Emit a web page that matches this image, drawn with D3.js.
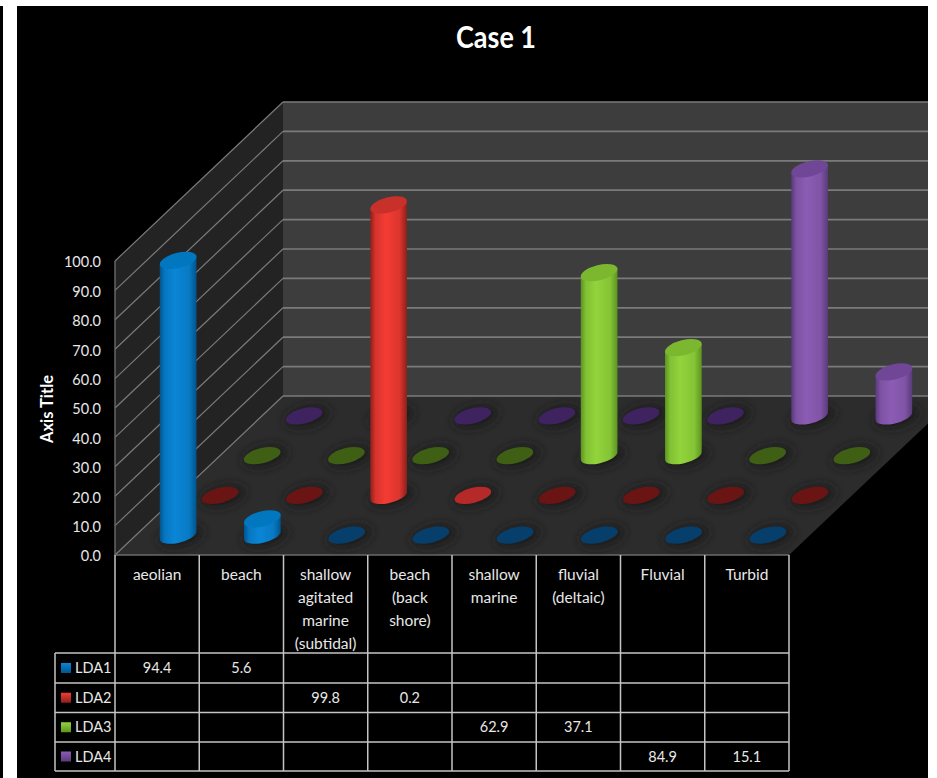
<!DOCTYPE html>
<html>
<head>
<meta charset="utf-8">
<script src="https://cdn.jsdelivr.net/npm/d3@7"></script>
<style>
  html, body { margin: 0; padding: 0; background: #fff; }
  svg { display: block; }
  text { font-family: Lato, "Open Sans", sans-serif; fill: #e8e8e8; }
</style>
</head>
<body>
<svg id="chart" width="937" height="778"></svg>
<script>
// Chart data
const categories = ["aeolian", "beach", "shallow agitated marine (subtidal)", "beach (back shore)",
                    "shallow marine", "fluvial (deltaic)", "Fluvial", "Turbid"];
const categoryLines = [["aeolian"], ["beach"], ["shallow", "agitated", "marine", "(subtidal)"],
                       ["beach", "(back", "shore)"], ["shallow", "marine"], ["fluvial", "(deltaic)"],
                       ["Fluvial"], ["Turbid"]];
const seriesNames = ["LDA1", "LDA2", "LDA3", "LDA4"];
const LDA1 = [94.4, 5.6, null, null, null, null, null, null];
const LDA2 = [null, null, 99.8, 0.2, null, null, null, null];
const LDA3 = [null, null, null, null, 62.9, 37.1, null, null];
const LDA4 = [null, null, null, null, null, null, 84.9, 15.1];
const seriesValues = [LDA1, LDA2, LDA3, LDA4];
const yTicks = [0, 10, 20, 30, 40, 50, 60, 70, 80, 90, 100];

// Per-series shading: cylinder edge, cylinder centre, cap, empty-disc tint
const edgeColors = ["#00558f", "#8e1f1b", "#5c9420", "#5a3a7c"];
const centerColors = ["#0a86d6", "#f43c34", "#92d43c", "#8c5cb4"];
const capColors = ["#0077bf", "#c8302a", "#7cb82f", "#6f4796"];
const discColors = ["#063f6c", "#6b1414", "#3f5f15", "#3e2360"];
const lowDiscColor = "#b52a28";

const svg = d3.select("#chart");
const defs = svg.append("defs");

// Frame and plot geometry
const plotLeft = 115, plotRight = 789, floorY = 555, topY = 261;
const depthDx = 168, depthDy = -159;
const rowBottoms = [653, 683, 712.5, 742, 771];
const legendLeft = 55, frameRight = 928;

const x = d3.scaleBand().domain(categories).range([plotLeft, plotRight]);
const y = d3.scaleLinear().domain([0, 100]).range([floorY, topY]);
const barHeight = d3.scaleLinear().domain([0, 100]).range([0, 291]);
const depth = d3.scaleBand().domain(seriesNames).range([0, 1]);

// Places a point on the floor and lifts it by a value along the vertical axis
function project(category, series, value) {
  const d = depth(series) + depth.bandwidth() / 2;
  return [x(category) + x.bandwidth() / 2 + depthDx * d,
          floorY - barHeight(value) + depthDy * d];
}

svg.append("rect").attr("width", 937).attr("height", 778).attr("fill", "#000");

// Back wall, side wall and floor
const corner = (px, py, d) => [px + depthDx * d, py + depthDy * d];
const line = d3.line();
svg.append("path").attr("fill", "#3d3d3d")
  .attr("d", line([corner(plotLeft, topY, 1), corner(plotRight, topY, 1),
                   corner(plotRight, floorY, 1), corner(plotLeft, floorY, 1)]) + "Z");
svg.append("path").attr("fill", "#232323")
  .attr("d", line([[plotLeft, topY], corner(plotLeft, topY, 1),
                   corner(plotLeft, floorY, 1), [plotLeft, floorY]]) + "Z");
svg.append("path").attr("fill", "#2c2c2c")
  .attr("d", line([[plotLeft, floorY], [plotRight, floorY],
                   corner(plotRight, floorY, 1), corner(plotLeft, floorY, 1)]) + "Z");

// Gridlines run along the side wall and across the back wall
const grid = svg.append("g").attr("fill", "none").attr("stroke", "#7b7b7b");
yTicks.forEach(t => {
  grid.append("path").attr("stroke-width", 1.2)
    .attr("d", line([[plotLeft, y(t)], corner(plotLeft, y(t), 1)]));
  grid.append("path").attr("stroke-width", 1.7)
    .attr("d", line([corner(plotLeft, y(t), 1), corner(plotRight, y(t), 1)]));
});
grid.append("path").attr("stroke-width", 1.4).attr("stroke", "#6a6a6a")
  .attr("d", line([[plotLeft, topY], [plotLeft, floorY]]));
grid.append("path").attr("stroke-width", 1.4).attr("stroke", "#6a6a6a")
  .attr("d", line([[plotLeft, floorY], [plotRight, floorY]]));

// Value axis labels
svg.append("g")
  .attr("transform", `translate(${plotLeft},0)`)
  .call(d3.axisLeft(y).tickValues(yTicks).tickFormat(d3.format(".1f")).tickSize(0).tickPadding(14))
  .call(g => g.select(".domain").remove())
  .selectAll("text")
  .style("font-family", "Lato, sans-serif").style("font-size", "14.5px")
  .attr("fill", "#e8e8e8").attr("dy", "0.4em");

// Ellipse used for every cylinder cap, base and empty marker
const rx = 18.8, ry = 7.6, tilt = -14;
const tiltRad = tilt * Math.PI / 180;
const tangentT = Math.atan2(-ry * Math.sin(tiltRad), rx * Math.cos(tiltRad));
const tangentX = rx * Math.cos(tangentT) * Math.cos(tiltRad) - ry * Math.sin(tangentT) * Math.sin(tiltRad);
const tangentY = rx * Math.cos(tangentT) * Math.sin(tiltRad) + ry * Math.sin(tangentT) * Math.cos(tiltRad);

seriesNames.forEach((s, i) => {
  const g = defs.append("linearGradient").attr("id", `side-${i}`)
    .attr("x1", 0).attr("x2", 1).attr("y1", 0).attr("y2", 0);
  [[0, edgeColors[i]], [0.14, d3.interpolateRgb(edgeColors[i], centerColors[i])(0.7)],
   [0.42, centerColors[i]], [0.8, d3.interpolateRgb(edgeColors[i], centerColors[i])(0.75)],
   [1, edgeColors[i]]].forEach(([o, c]) =>
    g.append("stop").attr("offset", o).attr("stop-color", c));
});
// Wide soft shadow on the floor, kept in a generous filter region
defs.append("filter").attr("id", "soft")
  .attr("x", "-100%").attr("y", "-200%").attr("width", "300%").attr("height", "500%")
  .append("feGaussianBlur").attr("stdDeviation", 5);

// Rows are painted from the back of the floor to the front
const rowOrder = d3.range(seriesNames.length).reverse();

const shadows = svg.append("g");
rowOrder.forEach(r => categories.forEach(c => {
  const [cx, cy] = project(c, seriesNames[r], 0);
  shadows.append("ellipse")
    .attr("cx", cx + 3).attr("cy", cy + 1)
    .attr("rx", rx + 4).attr("ry", ry + 3)
    .attr("transform", `rotate(${tilt} ${cx + 3} ${cy + 1})`)
    .attr("fill", "#1c1c1c").attr("filter", "url(#soft)");
}));

const marks = svg.append("g");
rowOrder.forEach(r => {
  const name = seriesNames[r];
  categories.forEach((c, ci) => {
    const value = seriesValues[r][ci];
    const [bx, by] = project(c, name, 0);
    const ellipseAt = (cx, cy, fill) => marks.append("ellipse")
      .attr("cx", cx).attr("cy", cy).attr("rx", rx).attr("ry", ry)
      .attr("transform", `rotate(${tilt} ${cx} ${cy})`).attr("fill", fill);

    if (value === null) { ellipseAt(bx, by, discColors[r]); return; }
    if (value < 1) { ellipseAt(bx, by, lowDiscColor); return; }

    const [tx, ty] = project(c, name, value);
    marks.append("path")
      .attr("fill", `url(#side-${r})`)
      .attr("d", `M${tx + tangentX},${ty + tangentY}` +
                 `L${bx + tangentX},${by + tangentY}` +
                 `A${rx},${ry} ${tilt} 0 1 ${bx - tangentX},${by - tangentY}` +
                 `L${tx - tangentX},${ty - tangentY}Z`);
    ellipseAt(tx, ty, capColors[r]);
  });
});

// Data table below the floor
const rowY = i => rowBottoms[i];
const tableLines = svg.append("g").attr("stroke", "#c4c4c4").attr("stroke-width", 1.5).attr("fill", "none");
rowBottoms.forEach(v => tableLines.append("path").attr("d", line([[legendLeft, v], [plotRight, v]])));
tableLines.append("path").attr("d", line([[legendLeft, rowY(0)], [legendLeft, rowY(4)]]));
tableLines.append("path").attr("d", line([[plotLeft, floorY], [plotLeft, rowY(4)]]));
categories.forEach(c => tableLines.append("path")
  .attr("d", line([[x(c) + x.bandwidth(), floorY], [x(c) + x.bandwidth(), rowY(4)]])));

const labelSize = "14.5px";
categories.forEach((c, ci) => {
  const lx = x(c) + x.bandwidth() / 2;
  categoryLines[ci].forEach((t, li) => {
    svg.append("text").attr("x", lx).attr("y", 580 + li * 22.9)
      .attr("text-anchor", "middle").style("font-size", "15.5px").text(t);
  });
});

seriesNames.forEach((s, r) => {
  const top = rowY(r), bottom = rowY(r + 1), mid = (top + bottom) / 2;
  const key = defs.append("linearGradient").attr("id", `key-${r}`)
    .attr("x1", 0).attr("x2", 0).attr("y1", 0).attr("y2", 1);
  key.append("stop").attr("offset", 0).attr("stop-color", centerColors[r]);
  key.append("stop").attr("offset", 1).attr("stop-color", edgeColors[r]);
  svg.append("rect").attr("x", 61).attr("y", mid - 5).attr("width", 10).attr("height", 10)
    .attr("fill", `url(#key-${r})`);
  svg.append("text").attr("x", 75).attr("y", mid + 5)
    .style("font-size", labelSize).text(s);
  categories.forEach((c, ci) => {
    const v = seriesValues[r][ci];
    if (v === null) return;
    svg.append("text").attr("x", x(c) + x.bandwidth() / 2).attr("y", mid + 5)
      .attr("text-anchor", "middle").style("font-size", labelSize).text(d3.format(".1f")(v));
  });
});

// Titles
svg.append("text").attr("transform", "translate(496,48) scale(0.9,1)").attr("text-anchor", "middle")
  .style("font-size", "30px").style("font-weight", 700).style("fill", "#fff").text("Case 1");
svg.append("text").attr("transform", "translate(52.5,409) rotate(-90)").attr("text-anchor", "middle")
  .style("font-size", "16.5px").style("font-weight", 700).style("fill", "#fff").text("Axis Title");

// White page margins around the chart area
const margin = svg.append("g").attr("fill", "#fff");
margin.append("rect").attr("x", 0).attr("y", 0).attr("width", 937).attr("height", 6);
margin.append("rect").attr("x", 3).attr("y", 0).attr("width", 14).attr("height", 778);
margin.append("rect").attr("x", frameRight).attr("y", 0).attr("width", 937 - frameRight).attr("height", 778);
</script>
</body>
</html>
